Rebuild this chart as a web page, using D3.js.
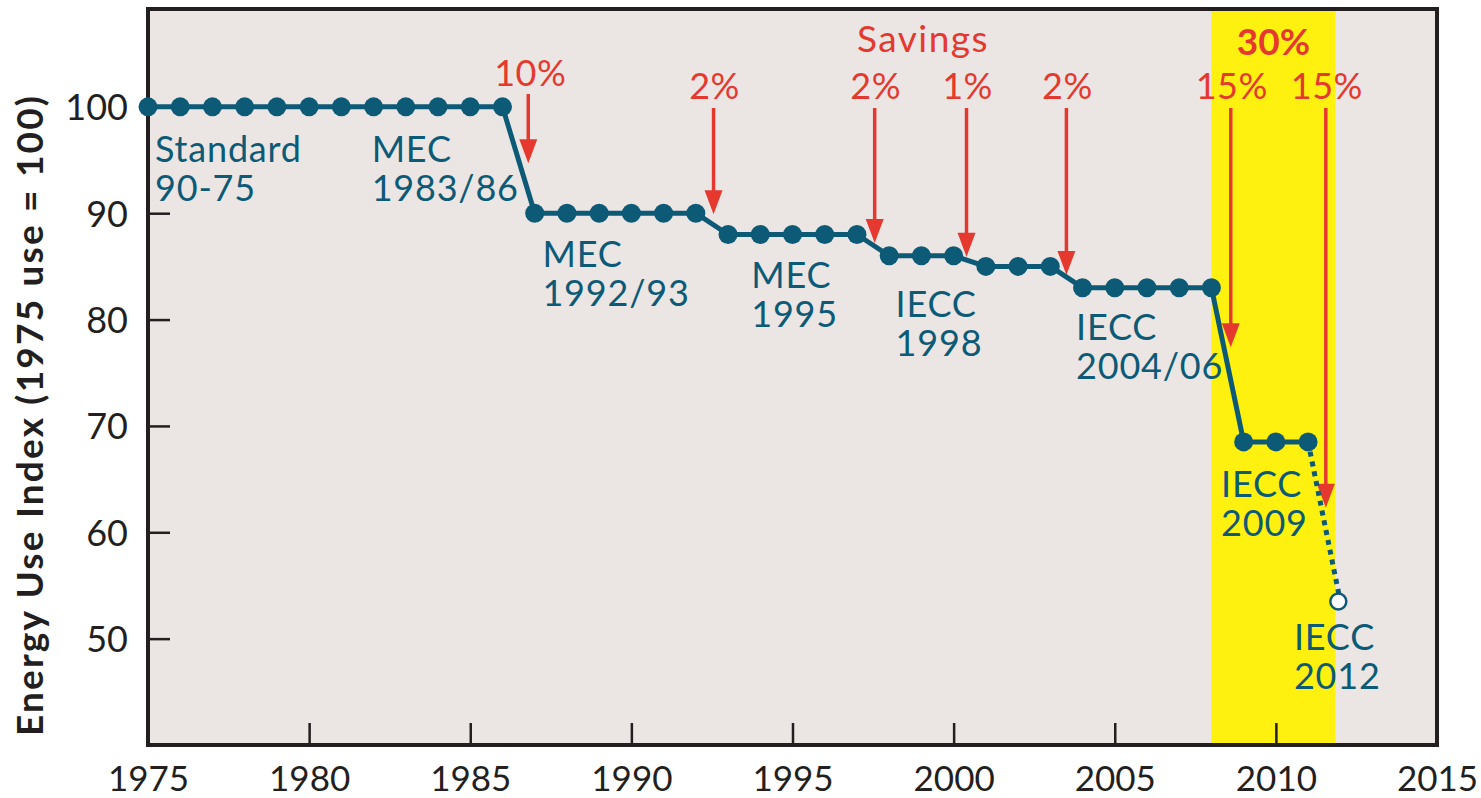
<!DOCTYPE html>
<html>
<head>
<meta charset="utf-8">
<script src="https://cdn.jsdelivr.net/npm/d3@7"></script>
<style>
  html, body { margin: 0; padding: 0; background: #ffffff; }
  svg { display: block; }
  text { font-family: Lato, "Open Sans", sans-serif; }
</style>
</head>
<body>
<svg id="chart" width="1481" height="798"></svg>
<script>
// ---- data ----
const years = [1975,1976,1977,1978,1979,1980,1981,1982,1983,1984,1985,1986,
               1987,1988,1989,1990,1991,1992,
               1993,1994,1995,1996,1997,
               1998,1999,2000,
               2001,2002,2003,
               2004,2005,2006,2007,2008,
               2009,2010,2011,
               2012];
const energyIndex = [100,100,100,100,100,100,100,100,100,100,100,100,
                     90,90,90,90,90,90,
                     88,88,88,88,88,
                     86,86,86,
                     85,85,85,
                     83,83,83,83,83,
                     68.5,68.5,68.5,
                     53.5];
const xTicks = [1975,1980,1985,1990,1995,2000,2005,2010,2015];
const yTicks = [50,60,70,80,90,100];
const codeNames = ["Standard","MEC","MEC","MEC","IECC","IECC","IECC","IECC"];
const codeYears = ["90-75","1983/86","1992/93","1995","1998","2004/06","2009","2012"];
const savingsYears = [1986.8,1992.55,1997.55,2000.4,2003.5,2008.6,2011.55];
const savingsLabels = ["10%","2%","2%","1%","2%","15%","15%"];
const savingsTips = [94.7,89.9,87.2,85.9,84.2,77.4,62.3];
const highlightRange = [2008,2011.85];
const highlightLabel = "30%";
const savingsTitle = "Savings";
const yTitle = "Energy Use Index (1975 use = 100)";

// ---- layout ----
const L = 148, R = 1437, T = 9, B = 745;
const teal = "#0d5a77", red = "#e5392f", ink = "#231f20";
const svg = d3.select("#chart");
const x = d3.scaleLinear().domain([1975,2015]).range([L,R]);
const y = d3.scaleLinear().domain([40,109.2]).range([B,T]);

// background
svg.append("rect").attr("x",L).attr("y",T).attr("width",R-L).attr("height",B-T).attr("fill","#ebe6e4");
svg.append("rect").attr("x",x(highlightRange[0])).attr("y",T)
   .attr("width",x(highlightRange[1])-x(highlightRange[0])).attr("height",B-T).attr("fill","#fff10f");

// axes
const xAxis = d3.axisBottom(x).tickValues(xTicks).tickFormat(d3.format("d")).tickSizeInner(-22).tickSizeOuter(0).tickPadding(21);
const gx = svg.append("g").attr("transform",`translate(0,${B})`).call(xAxis);
gx.select(".domain").remove();
gx.selectAll(".tick line").attr("stroke",ink).attr("stroke-width",2.5)
  .attr("display",d => (d===1975||d===2015) ? "none" : null);
gx.selectAll(".tick text").attr("fill",ink).style("font-size","35px").style("font-family","Lato").attr("dy","0.71em");

const yAxis = d3.axisLeft(y).tickValues(yTicks).tickSizeInner(-22).tickSizeOuter(0).tickPadding(20);
const gy = svg.append("g").attr("transform",`translate(${L},0)`).call(yAxis);
gy.select(".domain").remove();
gy.selectAll(".tick line").attr("stroke",ink).attr("stroke-width",2.5);
gy.selectAll(".tick text").attr("fill",ink).style("font-size","36px").style("font-family","Lato").attr("dy","0.36em");

// frame
svg.append("rect").attr("x",L).attr("y",T).attr("width",R-L).attr("height",B-T)
   .attr("fill","none").attr("stroke",ink).attr("stroke-width",4);

// y title
svg.append("text").attr("transform",`translate(43,${(95+737)/2}) rotate(-90)`)
   .attr("text-anchor","middle").attr("fill",ink)
   .attr("textLength",640).attr("lengthAdjust","spacing")
   .style("font-size","37px").style("font-weight","700").text(yTitle);

// savings arrows
const arrowTop = i => i===0 ? 94 : 108;
savingsYears.forEach((yr,i) => {
  const ax = x(yr), tip = y(savingsTips[i]);
  const headH = 24, headW = 9;
  svg.append("line").attr("x1",ax).attr("x2",ax).attr("y1",arrowTop(i)).attr("y2",tip-headH+2)
     .attr("stroke",red).attr("stroke-width",3.5);
  svg.append("path").attr("d",`M${ax-headW},${tip-headH} L${ax+headW},${tip-headH} L${ax},${tip} Z`).attr("fill",red);
  svg.append("text").attr("x",ax+ (i===0?2:1)).attr("y", i===0 ? 86 : 99)
     .attr("text-anchor","middle").attr("fill",red).style("font-size","36px")
     .style("letter-spacing","0.5px").text(savingsLabels[i]);
});
svg.append("text").attr("x",923).attr("y",52).attr("text-anchor","middle").attr("fill",red)
   .style("font-size","37px").style("letter-spacing","1.5px").text(savingsTitle);
svg.append("text").attr("x",x((highlightRange[0]+highlightRange[1])/2)).attr("y",55).attr("text-anchor","middle").attr("fill",red)
   .style("font-size","37px").style("font-weight","700").text(highlightLabel);

// line
const pts = years.map((yr,i)=>[yr,energyIndex[i]]);
const solid = pts.slice(0, pts.length-1);
const line = d3.line().x(d=>x(d[0])).y(d=>y(d[1]));
svg.append("path").attr("d",line(solid)).attr("fill","none").attr("stroke",teal).attr("stroke-width",5).attr("stroke-linejoin","round");
svg.append("path").attr("d",line(pts.slice(pts.length-2))).attr("fill","none").attr("stroke",teal)
   .attr("stroke-width",5).attr("stroke-dasharray","5,5");
svg.selectAll("circle.pt").data(solid).enter().append("circle").attr("class","pt")
   .attr("cx",d=>x(d[0])).attr("cy",d=>y(d[1])).attr("r",9.5).attr("fill",teal);
const last = pts[pts.length-1];
svg.append("circle").attr("cx",x(last[0])-2).attr("cy",y(last[1])).attr("r",8)
   .attr("fill","#ffffff").attr("stroke",teal).attr("stroke-width",2.5);

// code labels: [left year, first baseline value]
const labelPos = [[1975.22,94.81],[1981.94,94.81],[1987.24,84.9],[1993.72,83.0],[1998.2,80.2],[2003.8,78.1],[2008.3,63.3],[2010.56,48.9]];
codeNames.forEach((nm,i) => {
  const t = svg.append("text").attr("x",x(labelPos[i][0])).attr("y",y(labelPos[i][1]))
     .attr("fill",teal).style("font-size","36px").style("letter-spacing","0.8px");
  t.append("tspan").attr("x",x(labelPos[i][0])).text(nm);
  t.append("tspan").attr("x",x(labelPos[i][0])).attr("dy",39).text(codeYears[i]);
});
</script>
</body>
</html>
